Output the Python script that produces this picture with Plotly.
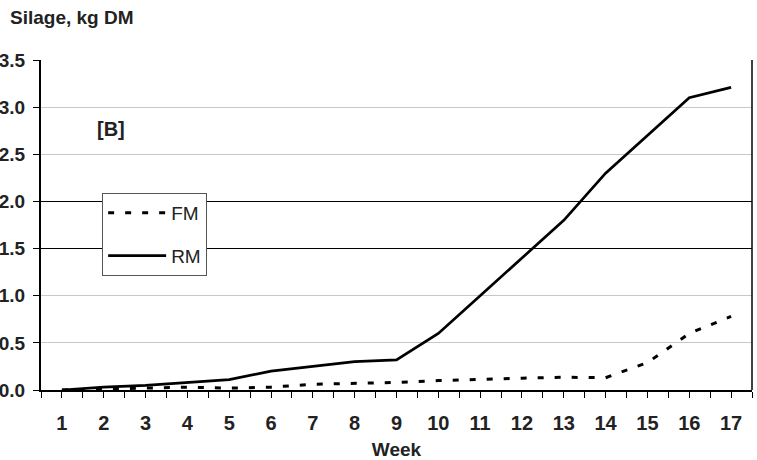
import plotly.graph_objects as go

weeks = list(range(1, 18))
fm = [0.0, 0.01, 0.02, 0.03, 0.02, 0.03, 0.06, 0.07, 0.08, 0.10, 0.115, 0.125, 0.135, 0.13, 0.29, 0.60, 0.78]
rm = [0.0, 0.03, 0.05, 0.08, 0.11, 0.20, 0.25, 0.30, 0.32, 0.60, 1.00, 1.40, 1.80, 2.30, 2.70, 3.10, 3.21]
y_ticks = [0.0, 0.5, 1.0, 1.5, 2.0, 2.5, 3.0, 3.5]
dark_grid = [1.5, 2.0, 3.5]

FONT = "Liberation Sans, Arial, sans-serif"
TXT = "#222222"

fig = go.Figure()
fig.add_trace(go.Scatter(x=weeks, y=fm, name="FM", mode="lines", legendgroup="a",
                         line=dict(color="black", width=3, dash="6px,11px")))
fig.add_trace(go.Scatter(x=weeks, y=rm, name="RM", mode="lines", legendgroup="b",
                         line=dict(color="black", width=2.7)))

fig.update_layout(
    width=757, height=460,
    margin=dict(l=41, r=5, t=60, b=70),
    plot_bgcolor="white", paper_bgcolor="white",
    font=dict(family=FONT, color=TXT),
    showlegend=True,
    legend=dict(x=0.086, y=0.597, xanchor="left", yanchor="top",
                bgcolor="white", bordercolor="#555555", borderwidth=1,
                font=dict(size=19, family=FONT, color=TXT),
                itemwidth=58,
                tracegroupgap=15, traceorder="grouped"),
    xaxis=dict(range=[0.5, 17.5], tickvals=weeks, ticktext=["<b>%d</b>" % w for w in weeks],
               showgrid=False, showline=True, linecolor="black", linewidth=2,
               ticks="outside", ticklen=6, tickcolor="black", tickwidth=1,
               minor=dict(dtick=0.5, tick0=0.5, ticks="outside", ticklen=6, tickcolor="black", tickwidth=1),
               tickfont=dict(size=20, family=FONT, color=TXT),
               ticklabelstandoff=8, automargin=False,
               title=dict(text="<b>Week</b>", font=dict(size=19, family=FONT, color=TXT), standoff=12),
               zeroline=False),
    yaxis=dict(range=[0, 3.5], tickvals=y_ticks, ticktext=["<b>%.1f</b>" % v for v in y_ticks],
               showgrid=True, gridcolor="#c8c8c8", gridwidth=1,
               showline=True, linecolor="black", linewidth=2,
               ticks="outside", ticklen=6, tickcolor="black",
               tickfont=dict(size=19, family=FONT, color=TXT),
               ticklabelstandoff=4, automargin=False,
               zeroline=False),
    yaxis2=dict(range=[0, 3.5], overlaying="y", tickvals=dark_grid, showticklabels=False,
                showgrid=True, gridcolor="black", gridwidth=1, showline=False,
                ticks="", zeroline=False, automargin=False),
)

# invisible carrier for the dark gridlines axis
fig.add_trace(go.Scatter(x=[weeks[0]], y=[None], yaxis="y2", showlegend=False, hoverinfo="skip"))

# right border
fig.add_shape(type="line", xref="paper", yref="paper", x0=1, x1=1, y0=0, y1=1, line=dict(color="black", width=1.5))

fig.add_annotation(text="<b>Silage, kg DM</b>", xref="paper", yref="paper", x=-0.046, y=1.13,
                   xanchor="left", yanchor="middle", showarrow=False,
                   font=dict(size=19, family=FONT, color=TXT))
fig.add_annotation(text="<b>[B]</b>", xref="paper", yref="paper", x=0.076, y=0.79,
                   xanchor="left", yanchor="middle", showarrow=False,
                   font=dict(size=20, family=FONT, color=TXT))

fig.write_html("out.html")
